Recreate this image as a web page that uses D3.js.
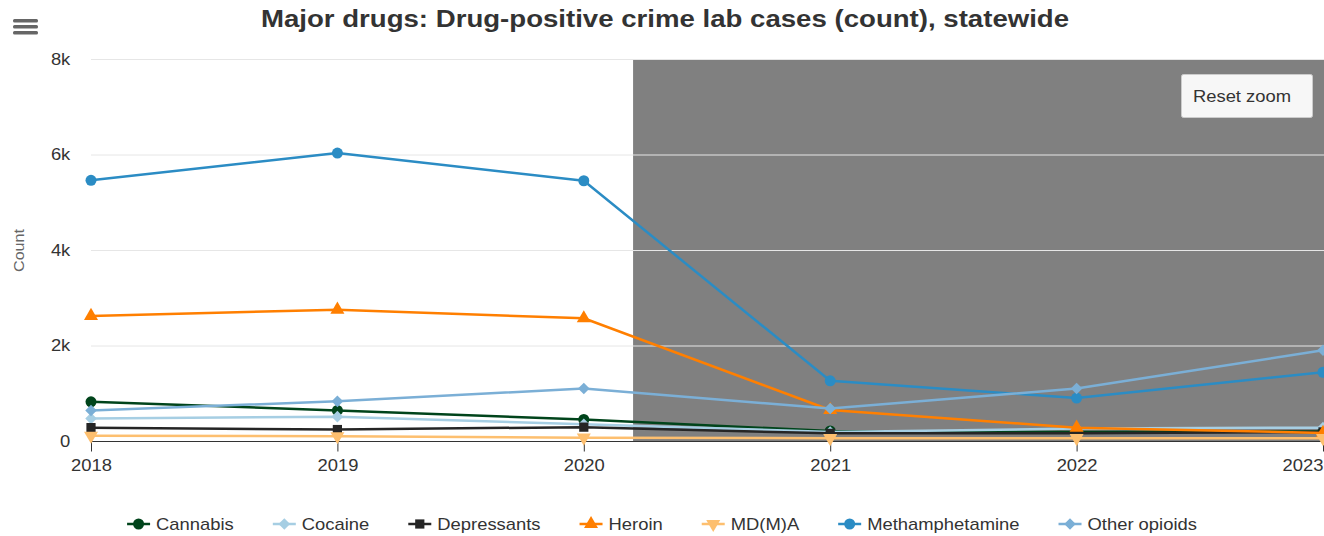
<!DOCTYPE html>
<html>
<head>
<meta charset="utf-8">
<script src="https://cdn.jsdelivr.net/npm/d3@7"></script>
<style>
  body { margin: 0; background: #fff; font-family: "Liberation Sans", Arial, sans-serif; }
  #chart { width: 1324px; height: 536px; overflow: hidden; }
</style>
</head>
<body>
<div id="chart"></div>
<script>
const years = [2018, 2019, 2020, 2021, 2022, 2023];
const seriesNames = ['Cannabis', 'Cocaine', 'Depressants', 'Heroin', 'MD(M)A', 'Methamphetamine', 'Other opioids'];
const cannabis = [820, 640, 450, 210, 190, 200];
const cocaine = [470, 510, 350, 190, 260, 280];
const depressants = [280, 240, 290, 160, 160, 190];
const heroin = [2620, 2750, 2570, 650, 280, 170];
const mdma = [110, 100, 70, 60, 60, 60];
const meth = [5460, 6030, 5450, 1260, 900, 1440];
const otherOpioids = [640, 830, 1100, 680, 1100, 1900];
const colors = ['#00441b', '#a6cee3', '#252525', '#ff7f00', '#fdbf6f', '#2b8cc4', '#7bafd6'];
const symbols = [d3.symbolCircle, d3.symbolDiamond2, d3.symbolSquare, d3.symbolTriangle, 'down', d3.symbolCircle, d3.symbolDiamond2];
const yTicks = [0, 2000, 4000, 6000, 8000];
const bandFrom = 2020.2;

const allValues = [cannabis, cocaine, depressants, heroin, mdma, meth, otherOpioids];
const series = seriesNames.map((name, i) => ({ name, color: colors[i], symbol: symbols[i], values: allValues[i] }));

const width = 1324, height = 536;
const margin = { top: 59, right: 0, bottom: 94, left: 91 };
const innerWidth = width - margin.left - margin.right;
const innerHeight = height - margin.top - margin.bottom;
const stretch = 1.15; // text in the reference is drawn wider than Liberation Sans

const svg = d3.select('#chart').append('svg')
  .attr('width', width)
  .attr('height', height);

const xScale = d3.scaleLinear().domain([2018, 2023]).range([0, innerWidth - 1]);
const yScale = d3.scaleLinear().domain([0, 8000]).range([innerHeight - 1, 0]);

// title + menu
svg.append('text')
  .attr('transform', `translate(665,27) scale(${stretch},1)`)
  .attr('text-anchor', 'middle')
  .attr('font-size', 24).attr('font-weight', 'bold').attr('fill', '#333')
  .text('Major drugs: Drug-positive crime lab cases (count), statewide');

[0, 6, 12].forEach(dy => {
  svg.append('rect').attr('x', 13).attr('y', 19 + dy).attr('width', 25).attr('height', 3.5)
    .attr('rx', 1.5).attr('fill', '#666');
});

const g = svg.append('g').attr('transform', `translate(${margin.left},${margin.top})`);

// plot band
g.append('rect')
  .attr('x', xScale(bandFrom)).attr('y', 0)
  .attr('width', innerWidth - xScale(bandFrom)).attr('height', innerHeight - 1)
  .attr('fill', '#808080');

// y grid
const yAxis = d3.axisLeft(yScale).tickValues(yTicks)
  .tickSize(-innerWidth).tickPadding(18)
  .tickFormat(d => d === 0 ? '0' : (d / 1000) + 'k');
const yAxisG = g.append('g').call(yAxis);
yAxisG.select('.domain').remove();
yAxisG.selectAll('.tick line').attr('stroke', '#e6e6e6').attr('stroke-opacity', d => d === 0 ? 0 : 1);
yAxisG.selectAll('.tick text').attr('font-size', 16).attr('fill', '#333')
  .attr('font-family', '"Liberation Sans", Arial, sans-serif')
  .attr('transform', `scale(${stretch},1)`);

svg.append('text')
  .attr('transform', `translate(24,${margin.top + innerHeight / 2}) rotate(-90) scale(${stretch},1)`)
  .attr('text-anchor', 'middle')
  .attr('font-size', 14).attr('fill', '#666')
  .text('Count');

// x axis
const xAxis = d3.axisBottom(xScale).tickValues(years).tickSize(10).tickPadding(8).tickFormat(d3.format('d'));
const xAxisG = g.append('g').attr('transform', `translate(0,${innerHeight - 0.5})`).call(xAxis);
xAxisG.select('.domain').attr('stroke', '#333').attr('d', `M0,0H${innerWidth}`);
xAxisG.selectAll('.tick line').attr('stroke', '#333');
xAxisG.selectAll('.tick text').attr('font-size', 16).attr('fill', '#333')
  .attr('font-family', '"Liberation Sans", Arial, sans-serif')
  .attr('text-anchor', d => d === 2023 ? 'end' : 'middle')
  .attr('transform', `scale(${stretch},1)`);

const markerPath = (sym) => {
  if (sym === 'down') return d3.symbol(d3.symbolTriangle, 85)();
  if (sym === d3.symbolCircle) return d3.symbol(sym, 95)();
  return d3.symbol(sym, 85)();
};

const line = d3.line().x((d, i) => xScale(years[i])).y(d => yScale(d));

series.forEach(s => {
  g.append('path')
    .datum(s.values)
    .attr('fill', 'none')
    .attr('stroke', s.color)
    .attr('stroke-width', 2.5)
    .attr('stroke-linejoin', 'round')
    .attr('d', line);
  g.selectAll(null).data(s.values).enter().append('path')
    .attr('transform', (d, i) => `translate(${xScale(years[i])},${yScale(d)})` + (s.symbol === 'down' ? ' rotate(180)' : ''))
    .attr('d', markerPath(s.symbol))
    .attr('fill', s.color);
});

// reset zoom button
const btn = svg.append('g').attr('transform', 'translate(1181,74)');
btn.append('rect').attr('x', 0.5).attr('y', 0.5).attr('width', 131).attr('height', 43).attr('rx', 2)
  .attr('fill', '#f7f7f7').attr('stroke', '#cccccc');
btn.append('text').attr('transform', `translate(61,28) scale(${stretch},1)`).attr('text-anchor', 'middle')
  .attr('font-size', 16).attr('fill', '#333').text('Reset zoom');

// legend
const legend = svg.append('g');
let lx = 0;
series.forEach(s => {
  const it = legend.append('g');
  it.append('line').attr('x1', 0).attr('x2', 23).attr('y1', 0).attr('y2', 0)
    .attr('stroke', s.color).attr('stroke-width', 2.5);
  it.append('path')
    .attr('transform', 'translate(11.5,0)' + (s.symbol === 'down' ? ' rotate(180)' : ''))
    .attr('d', markerPath(s.symbol))
    .attr('fill', s.color);
  const t = it.append('text').attr('transform', `translate(29,6) scale(${stretch},1)`)
    .attr('font-size', 16).attr('fill', '#333').text(s.name);
  const w = 29 + t.node().getComputedTextLength() * stretch;
  it.attr('transform', `translate(${lx},0)`);
  lx += w + 39;
});
const legendWidth = lx - 39;
legend.attr('transform', `translate(${662 - legendWidth / 2},524)`);
</script>
</body>
</html>
